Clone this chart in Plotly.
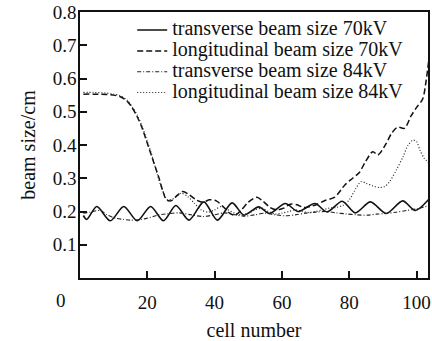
import plotly.graph_objects as go

# cell positions and beam sizes (cm)
cell_t70 = [1, 2, 5, 9, 13, 17, 21, 24.8, 28.5, 32.4, 36.8, 40.8, 45.2, 48.7, 53.1, 56.3,
            61, 64.8, 69.8, 73.4, 77.9, 81.8, 86.3, 91, 95.9, 99.6, 103.9]
size_t70 = [0.188, 0.176, 0.215, 0.172, 0.215, 0.172, 0.215, 0.172, 0.218, 0.174, 0.229,
            0.174, 0.226, 0.189, 0.214, 0.194, 0.224, 0.2, 0.224, 0.199, 0.231, 0.196,
            0.229, 0.194, 0.232, 0.203, 0.24]

cell_l70 = [1, 4, 8, 10, 12, 14, 15.5, 17, 18.5, 20, 21.5, 22.5, 23.5, 24.5, 25.7, 27, 28.5,
            30.5, 32.5, 34.5, 36.5, 38.5, 40.5, 42.5, 44.5, 46, 48, 50, 52.5, 54.5, 56.5,
            58.5, 60.5, 62.5, 64.5, 66.5, 68.5, 70.5, 72.8, 75.7, 78.7, 81, 83, 84.6, 87,
            88.5, 91, 92.5, 94.4, 96.4, 98.4, 100, 101.8, 102.8, 103.8]
size_l70 = [0.553, 0.553, 0.552, 0.55, 0.545, 0.532, 0.512, 0.485, 0.45, 0.405, 0.36, 0.33,
            0.3, 0.265, 0.235, 0.232, 0.245, 0.26, 0.25, 0.235, 0.228, 0.235, 0.232, 0.215,
            0.195, 0.188, 0.205, 0.228, 0.243, 0.23, 0.212, 0.205, 0.21, 0.222, 0.22, 0.212,
            0.215, 0.222, 0.233, 0.243, 0.28, 0.3, 0.317, 0.346, 0.38, 0.37, 0.405, 0.434,
            0.454, 0.45, 0.488, 0.513, 0.538, 0.59, 0.67]

cell_t84 = [1, 3, 6, 8, 10.5, 13, 15, 18, 20, 23.5, 26, 29.5, 33, 36.5, 40, 43, 46, 49, 52,
            55, 58, 61, 64, 67, 70, 73, 76, 79, 82, 85.5, 88, 91, 94, 97, 100, 103.8]
size_t84 = [0.195, 0.198, 0.203, 0.19, 0.18, 0.176, 0.174, 0.176, 0.18, 0.19, 0.193, 0.196,
            0.19, 0.185, 0.19, 0.196, 0.19, 0.186, 0.19, 0.195, 0.19, 0.187, 0.19, 0.195,
            0.198, 0.2, 0.196, 0.193, 0.19, 0.189, 0.192, 0.194, 0.198, 0.203, 0.208, 0.218]

cell_l84 = [1, 4, 8, 10, 12, 14, 15.5, 17, 18.5, 20, 21.5, 23, 24.5, 26, 28, 30, 32, 34, 36,
            38, 40, 42, 44, 46, 48, 50, 52, 54, 56, 58, 60, 62, 64, 66, 68, 70, 72, 74, 76,
            78, 80, 82, 83.5, 85, 87, 89, 90.5, 92, 94, 96, 97.5, 99, 100, 101, 102.3, 103.8]
size_l84 = [0.558, 0.558, 0.556, 0.553, 0.548, 0.535, 0.515, 0.49, 0.455, 0.41, 0.365, 0.31,
            0.265, 0.235, 0.24, 0.255, 0.245, 0.225, 0.205, 0.198, 0.205, 0.215, 0.205,
            0.195, 0.19, 0.195, 0.205, 0.21, 0.2, 0.192, 0.195, 0.2, 0.205, 0.2, 0.197, 0.2,
            0.205, 0.21, 0.212, 0.218, 0.235, 0.27, 0.29, 0.285, 0.277, 0.272, 0.275, 0.29,
            0.325, 0.365, 0.4, 0.415, 0.41, 0.385, 0.36, 0.345]

series_names = ["transverse beam size 70kV", "longitudinal beam size 70kV",
                "transverse beam size 84kV", "longitudinal beam size 84kV"]

x_ticks = [20, 40, 60, 80, 100]
y_ticks = [0.1, 0.2, 0.3, 0.4, 0.5, 0.6, 0.7, 0.8]

FONT = "Liberation Serif"

styles = [
    dict(color="#111", width=1.6, dash="solid"),
    dict(color="#111", width=1.5, dash="6px,3px"),
    dict(color="#222", width=1.1, dash="4px,2px,1px,2px"),
    dict(color="#222", width=1.2, dash="1px,2px"),
]
data = [(cell_t70, size_t70), (cell_l70, size_l70), (cell_t84, size_t84), (cell_l84, size_l84)]

fig = go.Figure()
for (xs, ys), name, st in zip(data, series_names, styles):
    fig.add_trace(go.Scatter(
        x=xs, y=ys, mode="lines", line=dict(shape="spline", smoothing=0.8, **st),
        name=f"<span style='font-size:20px'>{name}</span>",
    ))

axis_common = dict(
    showgrid=False, zeroline=False, showline=True, linecolor="#111", linewidth=1.5,
    mirror=True, ticks="inside", ticklen=7, tickwidth=1.5, tickcolor="#111",
    tickfont=dict(family=FONT, size=19, color="#111"),
)

fig.update_layout(
    width=432, height=341,
    margin=dict(l=80, r=2, t=11, b=61),
    paper_bgcolor="white", plot_bgcolor="white",
    font=dict(family=FONT, color="#111"),
    showlegend=True,
    legend=dict(x=0.15, y=0.99, xanchor="left", yanchor="top",
                bgcolor="rgba(0,0,0,0)", font=dict(family=FONT, size=13.7, color="#111"),
                itemwidth=30, tracegroupgap=0),
    xaxis=dict(range=[0, 103.4], tickvals=x_ticks, ticktext=[str(v) for v in x_ticks],
               ticklabelstandoff=6,
               title=dict(text="cell number", font=dict(family=FONT, size=20), standoff=12),
               **axis_common),
    yaxis=dict(range=[0, 0.8], tickvals=y_ticks, ticktext=[f"{v:.1f}" for v in y_ticks],
               ticklabelstandoff=-2,
               title=dict(text="beam size/cm", font=dict(family=FONT, size=20), standoff=12),
               **axis_common),
)

# shared origin label under the corner
fig.add_annotation(text="0", xref="paper", yref="paper", x=-0.054, y=-0.085,
                   xanchor="center", yanchor="middle", showarrow=False,
                   font=dict(family=FONT, size=19, color="#111"))

fig.write_html("out.html")
